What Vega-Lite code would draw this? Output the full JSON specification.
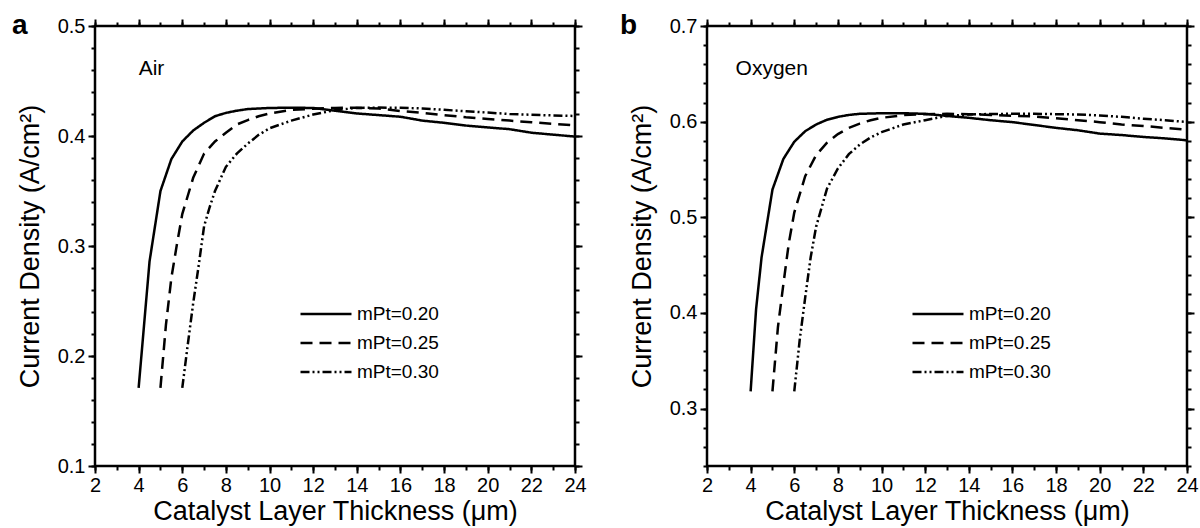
{
  "$schema": "https://vega.github.io/schema/vega-lite/v6.json",
  "padding": {"left": 10, "top": 10, "right": 0, "bottom": 0},
  "config": {
    "background": "white",
    "view": {"stroke": "black", "strokeWidth": 2.5},
    "font": "Liberation Sans",
    "axis": {"domain": false, "grid": false, "ticks": true, "tickColor": "black", "tickWidth": 2, "labelColor": "black", "titleColor": "black", "labelFont": "Liberation Sans", "titleFont": "Liberation Sans", "titleFontWeight": "normal", "labelFontSize": 20, "titleFontSize": 27, "labelFlush": false},
    "legend": {"labelFont": "Liberation Sans"}
  },
  "datasets": {
    "curves": [
      {"p":"a","m":"0.20","t":4.0,"j":0.171},{"p":"a","m":"0.20","t":4.5,"j":0.286},{"p":"a","m":"0.20","t":5.0,"j":0.350},{"p":"a","m":"0.20","t":5.5,"j":0.379},{"p":"a","m":"0.20","t":6.0,"j":0.395},{"p":"a","m":"0.20","t":6.5,"j":0.405},{"p":"a","m":"0.20","t":7.0,"j":0.412},{"p":"a","m":"0.20","t":7.5,"j":0.418},{"p":"a","m":"0.20","t":8.0,"j":0.421},{"p":"a","m":"0.20","t":8.5,"j":0.423},{"p":"a","m":"0.20","t":9.0,"j":0.4245},{"p":"a","m":"0.20","t":10,"j":0.4255},{"p":"a","m":"0.20","t":11,"j":0.4257},{"p":"a","m":"0.20","t":12,"j":0.4255},{"p":"a","m":"0.20","t":13,"j":0.423},{"p":"a","m":"0.20","t":14,"j":0.4205},{"p":"a","m":"0.20","t":15,"j":0.419},{"p":"a","m":"0.20","t":16,"j":0.4175},{"p":"a","m":"0.20","t":17,"j":0.414},{"p":"a","m":"0.20","t":18,"j":0.412},{"p":"a","m":"0.20","t":19,"j":0.4095},{"p":"a","m":"0.20","t":20,"j":0.4078},{"p":"a","m":"0.20","t":21,"j":0.4062},{"p":"a","m":"0.20","t":22,"j":0.403},{"p":"a","m":"0.20","t":23,"j":0.4012},{"p":"a","m":"0.20","t":24,"j":0.3995},
      {"p":"a","m":"0.25","t":5.0,"j":0.171},{"p":"a","m":"0.25","t":5.25,"j":0.228},{"p":"a","m":"0.25","t":5.5,"j":0.271},{"p":"a","m":"0.25","t":5.75,"j":0.301},{"p":"a","m":"0.25","t":6.0,"j":0.329},{"p":"a","m":"0.25","t":6.5,"j":0.362},{"p":"a","m":"0.25","t":7.0,"j":0.384},{"p":"a","m":"0.25","t":7.5,"j":0.395},{"p":"a","m":"0.25","t":8.0,"j":0.403},{"p":"a","m":"0.25","t":8.5,"j":0.4105},{"p":"a","m":"0.25","t":9.0,"j":0.4145},{"p":"a","m":"0.25","t":9.5,"j":0.418},{"p":"a","m":"0.25","t":10,"j":0.4205},{"p":"a","m":"0.25","t":11,"j":0.4237},{"p":"a","m":"0.25","t":12,"j":0.4248},{"p":"a","m":"0.25","t":13,"j":0.4255},{"p":"a","m":"0.25","t":14,"j":0.4257},{"p":"a","m":"0.25","t":15,"j":0.425},{"p":"a","m":"0.25","t":16,"j":0.4227},{"p":"a","m":"0.25","t":17,"j":0.421},{"p":"a","m":"0.25","t":18,"j":0.419},{"p":"a","m":"0.25","t":19,"j":0.417},{"p":"a","m":"0.25","t":20,"j":0.4155},{"p":"a","m":"0.25","t":21,"j":0.414},{"p":"a","m":"0.25","t":22,"j":0.4125},{"p":"a","m":"0.25","t":23,"j":0.411},{"p":"a","m":"0.25","t":24,"j":0.4097},
      {"p":"a","m":"0.30","t":6.0,"j":0.171},{"p":"a","m":"0.30","t":6.25,"j":0.21},{"p":"a","m":"0.30","t":6.5,"j":0.248},{"p":"a","m":"0.30","t":6.75,"j":0.282},{"p":"a","m":"0.30","t":7.0,"j":0.318},{"p":"a","m":"0.30","t":7.25,"j":0.335},{"p":"a","m":"0.30","t":7.5,"j":0.350},{"p":"a","m":"0.30","t":8.0,"j":0.372},{"p":"a","m":"0.30","t":8.5,"j":0.384},{"p":"a","m":"0.30","t":9.0,"j":0.393},{"p":"a","m":"0.30","t":9.5,"j":0.401},{"p":"a","m":"0.30","t":10,"j":0.407},{"p":"a","m":"0.30","t":11,"j":0.414},{"p":"a","m":"0.30","t":12,"j":0.4195},{"p":"a","m":"0.30","t":13,"j":0.4235},{"p":"a","m":"0.30","t":14,"j":0.4255},{"p":"a","m":"0.30","t":15,"j":0.4258},{"p":"a","m":"0.30","t":16,"j":0.4257},{"p":"a","m":"0.30","t":17,"j":0.425},{"p":"a","m":"0.30","t":18,"j":0.4238},{"p":"a","m":"0.30","t":19,"j":0.4225},{"p":"a","m":"0.30","t":20,"j":0.4213},{"p":"a","m":"0.30","t":21,"j":0.42},{"p":"a","m":"0.30","t":22,"j":0.4193},{"p":"a","m":"0.30","t":23,"j":0.4187},{"p":"a","m":"0.30","t":24,"j":0.4182},
      {"p":"b","m":"0.20","t":4.0,"j":0.318},{"p":"b","m":"0.20","t":4.25,"j":0.404},{"p":"b","m":"0.20","t":4.5,"j":0.458},{"p":"b","m":"0.20","t":5.0,"j":0.529},{"p":"b","m":"0.20","t":5.5,"j":0.561},{"p":"b","m":"0.20","t":6.0,"j":0.579},{"p":"b","m":"0.20","t":6.5,"j":0.590},{"p":"b","m":"0.20","t":7.0,"j":0.597},{"p":"b","m":"0.20","t":7.5,"j":0.602},{"p":"b","m":"0.20","t":8.0,"j":0.605},{"p":"b","m":"0.20","t":8.5,"j":0.607},{"p":"b","m":"0.20","t":9.0,"j":0.6082},{"p":"b","m":"0.20","t":10,"j":0.6088},{"p":"b","m":"0.20","t":11,"j":0.6088},{"p":"b","m":"0.20","t":12,"j":0.6082},{"p":"b","m":"0.20","t":13,"j":0.606},{"p":"b","m":"0.20","t":14,"j":0.604},{"p":"b","m":"0.20","t":15,"j":0.6015},{"p":"b","m":"0.20","t":16,"j":0.5995},{"p":"b","m":"0.20","t":17,"j":0.5965},{"p":"b","m":"0.20","t":18,"j":0.5935},{"p":"b","m":"0.20","t":19,"j":0.591},{"p":"b","m":"0.20","t":20,"j":0.5875},{"p":"b","m":"0.20","t":21,"j":0.586},{"p":"b","m":"0.20","t":22,"j":0.584},{"p":"b","m":"0.20","t":23,"j":0.5825},{"p":"b","m":"0.20","t":24,"j":0.5805},
      {"p":"b","m":"0.25","t":5.0,"j":0.318},{"p":"b","m":"0.25","t":5.25,"j":0.385},{"p":"b","m":"0.25","t":5.5,"j":0.430},{"p":"b","m":"0.25","t":5.75,"j":0.473},{"p":"b","m":"0.25","t":6.0,"j":0.505},{"p":"b","m":"0.25","t":6.5,"j":0.543},{"p":"b","m":"0.25","t":7.0,"j":0.565},{"p":"b","m":"0.25","t":7.5,"j":0.578},{"p":"b","m":"0.25","t":8.0,"j":0.587},{"p":"b","m":"0.25","t":8.5,"j":0.5935},{"p":"b","m":"0.25","t":9.0,"j":0.598},{"p":"b","m":"0.25","t":9.5,"j":0.6015},{"p":"b","m":"0.25","t":10,"j":0.604},{"p":"b","m":"0.25","t":11,"j":0.6068},{"p":"b","m":"0.25","t":12,"j":0.6078},{"p":"b","m":"0.25","t":13,"j":0.6082},{"p":"b","m":"0.25","t":14,"j":0.6078},{"p":"b","m":"0.25","t":15,"j":0.607},{"p":"b","m":"0.25","t":16,"j":0.6062},{"p":"b","m":"0.25","t":17,"j":0.6055},{"p":"b","m":"0.25","t":18,"j":0.6035},{"p":"b","m":"0.25","t":19,"j":0.6015},{"p":"b","m":"0.25","t":20,"j":0.5995},{"p":"b","m":"0.25","t":21,"j":0.597},{"p":"b","m":"0.25","t":22,"j":0.5955},{"p":"b","m":"0.25","t":23,"j":0.5935},{"p":"b","m":"0.25","t":24,"j":0.5915},
      {"p":"b","m":"0.30","t":6.0,"j":0.318},{"p":"b","m":"0.30","t":6.25,"j":0.372},{"p":"b","m":"0.30","t":6.5,"j":0.416},{"p":"b","m":"0.30","t":6.75,"j":0.458},{"p":"b","m":"0.30","t":7.0,"j":0.490},{"p":"b","m":"0.30","t":7.5,"j":0.530},{"p":"b","m":"0.30","t":8.0,"j":0.551},{"p":"b","m":"0.30","t":8.5,"j":0.566},{"p":"b","m":"0.30","t":9.0,"j":0.576},{"p":"b","m":"0.30","t":9.5,"j":0.5835},{"p":"b","m":"0.30","t":10,"j":0.589},{"p":"b","m":"0.30","t":11,"j":0.597},{"p":"b","m":"0.30","t":12,"j":0.6015},{"p":"b","m":"0.30","t":13,"j":0.606},{"p":"b","m":"0.30","t":14,"j":0.6075},{"p":"b","m":"0.30","t":15,"j":0.608},{"p":"b","m":"0.30","t":16,"j":0.6082},{"p":"b","m":"0.30","t":17,"j":0.6082},{"p":"b","m":"0.30","t":18,"j":0.6078},{"p":"b","m":"0.30","t":19,"j":0.6075},{"p":"b","m":"0.30","t":20,"j":0.6065},{"p":"b","m":"0.30","t":21,"j":0.605},{"p":"b","m":"0.30","t":22,"j":0.603},{"p":"b","m":"0.30","t":23,"j":0.6015},{"p":"b","m":"0.30","t":24,"j":0.5997}
    ]
  },
  "bounds": "flush",
  "spacing": 132,
  "resolve": {"scale": {"x": "independent", "y": "independent", "strokeDash": "independent"}, "legend": {"strokeDash": "independent"}},
  "hconcat": [
    {
      "width": 480, "height": 440,
      "title": {"text": "a", "anchor": "start", "frame": "group", "fontSize": 28, "fontWeight": "bold", "color": "black", "font": "Liberation Sans", "dx": -83, "dy": 46, "offset": 0, "baseline": "alphabetic"},
      "resolve": {"axis": {"x": "independent", "y": "independent"}},
      "layer": [
        {
          "data": {"name": "curves"},
          "transform": [{"filter": "datum.p === 'a'"}],
          "mark": {"type": "line", "color": "black", "strokeWidth": 2.5},
          "encoding": {
            "x": {"field": "t", "type": "quantitative", "scale": {"domain": [2, 24], "nice": false, "zero": false},
              "axis": {"orient": "bottom", "values": [2,4,6,8,10,12,14,16,18,20,22,24], "tickSize": 7, "labelPadding": 2, "title": "Catalyst Layer Thickness (μm)", "titlePadding": 3}},
            "y": {"field": "j", "type": "quantitative", "scale": {"domain": [0.1, 0.5], "nice": false, "zero": false},
              "axis": {"orient": "left", "values": [0.1,0.2,0.3,0.4,0.5], "format": ".1f", "tickSize": 7, "labelPadding": 3, "title": "Current Density (A/cm²)", "titlePadding": 13}},
            "strokeDash": {"field": "m", "type": "nominal", "scale": {"domain": ["0.20","0.25","0.30"], "range": [[1,0],[12,7],[9,3,2,3,2,3]]},
              "legend": {"title": null, "orient": "none", "legendX": 217, "legendY": 274, "symbolType": "M-2,0L2,0", "symbolSize": 650, "symbolStrokeWidth": 2.5, "symbolStrokeColor": "black", "labelExpr": "'mPt=' + datum.label", "labelFontSize": 19, "labelColor": "black", "rowPadding": 5, "labelOffset": 17}},
            "order": {"field": "t", "type": "quantitative"}
          }
        },
        {
          "data": {"values": [{"label": "Air"}]},
          "mark": {"type": "text", "align": "left", "baseline": "middle", "fontSize": 21, "color": "black"},
          "encoding": {
            "text": {"field": "label"},
            "x": {"datum": 4, "type": "quantitative", "axis": {"orient": "bottom", "values": [2,3,4,5,6,7,8,9,10,11,12,13,14,15,16,17,18,19,20,21,22,23,24], "tickSize": 4, "labels": false, "title": null}},
            "y": {"datum": 0.461, "type": "quantitative", "axis": {"orient": "left", "values": [0.1,0.12,0.14,0.16,0.18,0.2,0.22,0.24,0.26,0.28,0.3,0.32,0.34,0.36,0.38,0.4,0.42,0.44,0.46,0.48,0.5], "tickSize": 4, "labels": false, "title": null}}
          }
        },
        {
          "data": {"values": [{}]},
          "mark": {"type": "point", "opacity": 0},
          "encoding": {
            "x": {"datum": 4, "type": "quantitative", "axis": {"orient": "top", "values": [2,4,6,8,10,12,14,16,18,20,22,24], "tickSize": 7, "labels": false, "title": null}},
            "y": {"datum": 0.4, "type": "quantitative", "axis": {"orient": "right", "values": [0.1,0.2,0.3,0.4,0.5], "tickSize": 7, "labels": false, "title": null}}
          }
        },
        {
          "data": {"values": [{}]},
          "mark": {"type": "point", "opacity": 0},
          "encoding": {
            "x": {"datum": 4, "type": "quantitative", "axis": {"orient": "top", "values": [2,3,4,5,6,7,8,9,10,11,12,13,14,15,16,17,18,19,20,21,22,23,24], "tickSize": 4, "labels": false, "title": null}},
            "y": {"datum": 0.4, "type": "quantitative", "axis": {"orient": "right", "values": [0.1,0.12,0.14,0.16,0.18,0.2,0.22,0.24,0.26,0.28,0.3,0.32,0.34,0.36,0.38,0.4,0.42,0.44,0.46,0.48,0.5], "tickSize": 4, "labels": false, "title": null}}
          }
        }
      ]
    },
    {
      "width": 480, "height": 440,
      "title": {"text": "b", "anchor": "start", "frame": "group", "fontSize": 28, "fontWeight": "bold", "color": "black", "font": "Liberation Sans", "dx": -87, "dy": 46, "offset": 0, "baseline": "alphabetic"},
      "resolve": {"axis": {"x": "independent", "y": "independent"}},
      "layer": [
        {
          "data": {"name": "curves"},
          "transform": [{"filter": "datum.p === 'b'"}],
          "mark": {"type": "line", "color": "black", "strokeWidth": 2.5},
          "encoding": {
            "x": {"field": "t", "type": "quantitative", "scale": {"domain": [2, 24], "nice": false, "zero": false},
              "axis": {"orient": "bottom", "values": [2,4,6,8,10,12,14,16,18,20,22,24], "tickSize": 7, "labelPadding": 2, "title": "Catalyst Layer Thickness (μm)", "titlePadding": 3}},
            "y": {"field": "j", "type": "quantitative", "scale": {"domain": [0.24, 0.7], "nice": false, "zero": false},
              "axis": {"orient": "left", "values": [0.3,0.4,0.5,0.6,0.7], "format": ".1f", "tickSize": 7, "labelPadding": 3, "title": "Current Density (A/cm²)", "titlePadding": 13}},
            "strokeDash": {"field": "m", "type": "nominal", "scale": {"domain": ["0.20","0.25","0.30"], "range": [[1,0],[12,7],[9,3,2,3,2,3]]},
              "legend": {"title": null, "orient": "none", "legendX": 217, "legendY": 274, "symbolType": "M-2,0L2,0", "symbolSize": 650, "symbolStrokeWidth": 2.5, "symbolStrokeColor": "black", "labelExpr": "'mPt=' + datum.label", "labelFontSize": 19, "labelColor": "black", "rowPadding": 5, "labelOffset": 17}},
            "order": {"field": "t", "type": "quantitative"}
          }
        },
        {
          "data": {"values": [{"label": "Oxygen"}]},
          "mark": {"type": "text", "align": "left", "baseline": "middle", "fontSize": 21, "color": "black"},
          "encoding": {
            "text": {"field": "label"},
            "x": {"datum": 3.31, "type": "quantitative", "axis": {"orient": "bottom", "values": [2,3,4,5,6,7,8,9,10,11,12,13,14,15,16,17,18,19,20,21,22,23,24], "tickSize": 4, "labels": false, "title": null}},
            "y": {"datum": 0.655, "type": "quantitative", "axis": {"orient": "left", "values": [0.24,0.26,0.28,0.3,0.32,0.34,0.36,0.38,0.4,0.42,0.44,0.46,0.48,0.5,0.52,0.54,0.56,0.58,0.6,0.62,0.64,0.66,0.68,0.7], "tickSize": 4, "labels": false, "title": null}}
          }
        },
        {
          "data": {"values": [{}]},
          "mark": {"type": "point", "opacity": 0},
          "encoding": {
            "x": {"datum": 4, "type": "quantitative", "axis": {"orient": "top", "values": [2,4,6,8,10,12,14,16,18,20,22,24], "tickSize": 7, "labels": false, "title": null}},
            "y": {"datum": 0.5, "type": "quantitative", "axis": {"orient": "right", "values": [0.3,0.4,0.5,0.6,0.7], "tickSize": 7, "labels": false, "title": null}}
          }
        },
        {
          "data": {"values": [{}]},
          "mark": {"type": "point", "opacity": 0},
          "encoding": {
            "x": {"datum": 4, "type": "quantitative", "axis": {"orient": "top", "values": [2,3,4,5,6,7,8,9,10,11,12,13,14,15,16,17,18,19,20,21,22,23,24], "tickSize": 4, "labels": false, "title": null}},
            "y": {"datum": 0.5, "type": "quantitative", "axis": {"orient": "right", "values": [0.24,0.26,0.28,0.3,0.32,0.34,0.36,0.38,0.4,0.42,0.44,0.46,0.48,0.5,0.52,0.54,0.56,0.58,0.6,0.62,0.64,0.66,0.68,0.7], "tickSize": 4, "labels": false, "title": null}}
          }
        }
      ]
    }
  ]
}
